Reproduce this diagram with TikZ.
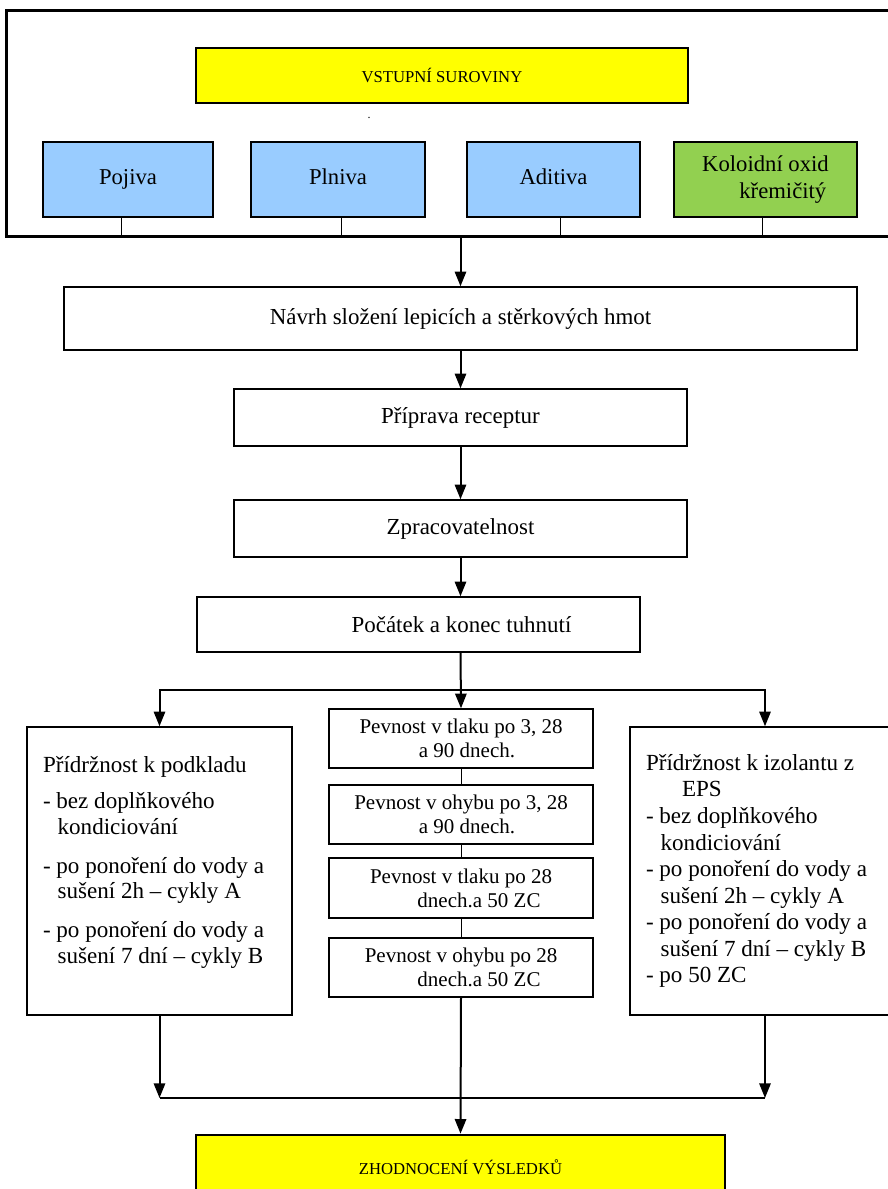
\documentclass[tikz,border=0pt]{standalone}
\usepackage{fontspec}
\setmainfont{Liberation Serif}
\usetikzlibrary{arrows.meta}

\tikzset{every picture/.style={line width=0.75pt}}
\tikzset{
  box/.style={draw, line width=1.1pt, inner sep=0pt, align=center, font=\fontsize{17.2}{20}\selectfont},
  rawbox/.style={box, fill={rgb, 255:red, 153; green, 204; blue, 255}, font=\fontsize{17}{20}\selectfont},
  titlebox/.style={draw, line width=2pt, fill={rgb, 255:red, 255; green, 255; blue, 0}, inner sep=0pt, font=\fontsize{12.5}{15}\selectfont},
  testbox/.style={box, font=\fontsize{15.75}{18}\selectfont},
  listbox/.style={draw, line width=1.1pt, inner xsep=12pt, inner ysep=0pt, align=flush left},
  arr/.style={line width=1.5pt, -{Triangle[length=11pt,width=8.5pt]}},
  tick/.style={line width=0.75pt},
}

\begin{document}
\begin{tikzpicture}[x=0.75pt,y=0.75pt,yscale=-1,xscale=1]
	\useasboundingbox (0,0) rectangle (888,1189);

	%Shape: Rectangle [frame of the raw materials]
	\node[draw, line width=2.25pt, minimum width=670.5pt, minimum height=169.5pt, inner sep=0pt] (frame) at (453,123) {};
	%Shape: Rectangle [title]
	\node[titlebox, minimum width=369pt, minimum height=41.25pt] (vstup) at (442,75.5) {VSTUPNÍ SUROVINY};
	% Text Node
	\node[inner sep=0pt, font=\small] (tecka) at (369,118) {.};

	%Shape: Rectangle [raw materials]
	\node[rawbox, text height=12pt, text depth=4pt, minimum width=127.5pt, minimum height=56.25pt] (pojiva) at (128,179.5) {Pojiva};
	\node[rawbox, text height=12pt, text depth=4pt, minimum width=130.5pt, minimum height=56.25pt] (plniva) at (338,179.5) {Plniva};
	\node[rawbox, text height=12pt, text depth=4pt, minimum width=129.75pt, minimum height=56.25pt] (aditiva) at (553.5,179.5) {Aditiva};
	\node[rawbox, fill={rgb, 255:red, 146; green, 208; blue, 80}, minimum width=137.25pt, minimum height=56.25pt] (koloid) at (765.5,179.5) {Koloidní oxid\\\hspace*{26pt}křemičitý};

	%Straight Lines [ticks down to the frame]
	\draw[tick] ([xshift=-5.25pt]pojiva.south) -- ([xshift=-5.25pt]pojiva.south |- frame.south);
	\draw[tick] ([xshift=2.25pt]plniva.south) -- ([xshift=2.25pt]plniva.south |- frame.south);
	\draw[tick] ([xshift=4.9pt]aditiva.south) -- ([xshift=4.9pt]aditiva.south |- frame.south);
	\draw[tick] ([xshift=-1.9pt]koloid.south) -- ([xshift=-1.9pt]koloid.south |- frame.south);

	%Shape: Rectangle [steps]
	\node[box, minimum width=594.75pt, minimum height=47.25pt] (navrh) at (460.5,318.5) {Návrh složení lepicích a stěrkových hmot};
	\node[box, minimum width=339.75pt, minimum height=42.75pt] (priprava) at (460.5,417.5) {Příprava receptur};
	\node[box, minimum width=339.75pt, minimum height=42.75pt] (zprac) at (460.5,528.5) {Zpracovatelnost};
	\node[box, minimum width=332.25pt, minimum height=41.25pt] (pocatek) at (418.5,624.5) {\hspace*{64.5pt}Počátek a konec tuhnutí};

	%Shape: Rectangle [adhesion to the substrate]
	\node[listbox, text width=174.75pt, minimum height=216pt, font=\fontsize{17.3}{19.2}\selectfont] (lbox) at (159.5,871) {Přídržnost k podkladu\\[8pt]
		- bez doplňkového\\\hspace*{11pt}kondiciování\\[10pt]
		- po ponoření do vody a\\\hspace*{11pt}sušení 2h – cykly A\\[10pt]
		- po ponoření do vody a\\\hspace*{11pt}sušení 7 dní – cykly B\\[-2.7pt]\mbox{}};

	%Shape: Rectangle [strength tests]
	\node[testbox, minimum width=198pt, minimum height=44.25pt] (m1) at (461,738.5) {Pevnost v tlaku po 3, 28\\\hspace*{9pt}a 90 dnech.};
	\node[testbox, minimum width=198pt, minimum height=44.25pt] (m2) at (461,814.5) {Pevnost v ohybu po 3, 28\\\hspace*{9pt}a 90 dnech.};
	\node[testbox, minimum width=198pt, minimum height=45pt] (m3) at (461,888) {Pevnost v tlaku po 28\\\hspace*{27pt}dnech.a 50 ZC};
	\node[testbox, minimum width=198pt, minimum height=44.25pt] (m4) at (461,967.5) {Pevnost v ohybu po 28\\\hspace*{27pt}dnech.a 50 ZC};

	%Shape: Rectangle [adhesion to EPS]
	\node[listbox, text width=178.5pt, minimum height=216pt, font=\fontsize{17.3}{19.9}\selectfont] (rbox) at (765,871) {Přídržnost k izolantu z\\\hspace*{27pt}EPS\\
		- bez doplňkového\\\hspace*{11pt}kondiciování\\
		- po ponoření do vody a\\\hspace*{11pt}sušení 2h – cykly A\\
		- po ponoření do vody a\\\hspace*{11pt}sušení 7 dní – cykly B\\
		- po 50 ZC};

	%Shape: Rectangle [results]
	\node[titlebox, minimum width=396.75pt, minimum height=48.75pt] (zhod) at (460.5,1167.5) {ZHODNOCENÍ VÝSLEDKŮ};

	%Straight Lines [flow]
	\draw[arr] (navrh.north |- frame.south) -- (navrh.north);
	\draw[arr] (navrh.south) -- (priprava.north);
	\draw[arr] (priprava.south) -- (zprac.north);
	\draw[arr] (zprac.south) -- (zprac.south |- pocatek.north);
	\coordinate (rozcesti) at (461,690);
	\draw[arr] (zprac.south |- pocatek.south) -- (m1.north);
	\draw[arr] (rozcesti) -| (lbox.north);
	\draw[arr] (rozcesti) -| (rbox.north);
	\draw[tick] (m1.south) -- (m2.north);
	\draw[tick] (m2.south) -- (m3.north);
	\draw[tick] (m3.south) -- (m4.north);
	\coordinate (soutok) at (461,1098);
	\draw[arr] (lbox.south) -- (lbox.south |- soutok);
	\draw[arr] (rbox.south) -- (rbox.south |- soutok);
	\draw[line width=1.2pt] (lbox.south |- soutok) -- (rbox.south |- soutok);
	\draw[arr] (m4.south) -- (zhod.north);

\end{tikzpicture}
\end{document}
